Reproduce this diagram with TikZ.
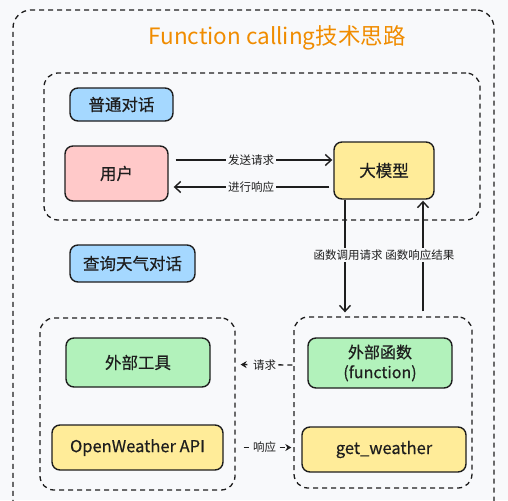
\documentclass[tikz,border=0pt]{standalone}
\usepackage{fontspec}
\setmainfont{Noto Sans CJK SC}
\newfontfamily\medfont{Noto Sans CJK SC}[FakeBold=0.5]
\usetikzlibrary{arrows.meta}
\definecolor{bg}{HTML}{F8F9FB}
\definecolor{cblue}{HTML}{A5D8FF}
\definecolor{cpink}{HTML}{FFC9C9}
\definecolor{cyellow}{HTML}{FFEC99}
\definecolor{cgreen}{HTML}{B2F2BB}
\definecolor{corange}{HTML}{F08C00}
\definecolor{ink}{HTML}{1E1E1E}
\tikzset{
  dbox/.style={draw=ink, line width=1.3pt, dash pattern=on 5pt off 4pt, rounded corners=14pt, inner sep=0pt},
  cbox/.style={draw=ink, line width=1.4pt, rounded corners=8pt, font=\medfont\fontsize{16.5}{19}\selectfont, text=ink, inner sep=0pt, align=center},
  lbl/.style={font=\fontsize{11.5}{13}\selectfont, fill=bg, text=ink, inner sep=2pt},
  conn/.style={draw=ink, line width=1.4pt, -{Straight Barb[length=6pt,width=11pt,line width=1.4pt]}},
  dconn/.style={draw=ink, line width=1.3pt, dash pattern=on 5pt off 4pt, -{Stealth[length=6pt,width=7pt]}}
}
\begin{document}
\begin{tikzpicture}[x=1pt,y=-1pt]
\useasboundingbox (0,0) rectangle (508,500);
\clip (0,0) rectangle (508,500);
\fill[bg] (0,0) rectangle (508,500);
% outer frame
\node[dbox, minimum width=481pt, minimum height=510pt, rounded corners=18pt] (outer) at (253.5,265) {};
\node[font=\fontsize{22.5}{26}\selectfont, text=corange] (title) at (277,38) {Function calling技术思路};
% group boxes
\node[dbox, minimum width=436pt, minimum height=147pt] (g1) at (262,146.5) {};
\node[dbox, minimum width=195pt, minimum height=172pt] (gl) at (137.5,404) {};
\node[dbox, minimum width=178pt, minimum height=171pt] (gr) at (383,402.5) {};
% nodes
\node[cbox, fill=cblue, minimum width=103pt, minimum height=33pt] (b1) at (121.5,104.5) {普通对话};
\node[cbox, fill=cpink, minimum width=103pt, minimum height=55pt] (user) at (116.5,173.5) {用户};
\node[cbox, fill=cyellow, minimum width=100pt, minimum height=57pt] (llm) at (384,170.5) {大模型};
\node[cbox, fill=cblue, minimum width=125pt, minimum height=37pt] (b2) at (132.5,263.5) {查询天气对话};
\node[cbox, fill=cgreen, minimum width=144pt, minimum height=49pt] (tool) at (138,362.5) {外部工具};
\node[cbox, fill=cyellow, minimum width=171pt, minimum height=45pt] (api) at (137.5,447.5) {OpenWeather API};
\node[cbox, fill=cgreen, minimum width=144pt, minimum height=50pt, font=\medfont\fontsize{16}{20}\selectfont] (func) at (380,363) {外部函数\\(function)};
\node[cbox, fill=cyellow, minimum width=164pt, minimum height=45pt] (getw) at (384,449.5) {get\_weather};
% connectors
\draw[conn, shorten <=7pt, shorten >=1pt] ([yshift=13.5pt]user.east) -- node[lbl] {发送请求} ([yshift=10.5pt]llm.west);
\draw[conn, shorten <=4pt, shorten >=5pt] ([yshift=-16.5pt]llm.west) -- node[lbl] {进行响应} ([yshift=-13.5pt]user.east);
\coordinate (dtop) at ([xshift=-39pt]llm.south);
\coordinate (dbot) at ([xshift=-38pt]gr.north);
\coordinate (utop) at ([xshift=39pt]llm.south);
\coordinate (ubot) at ([xshift=40pt]gr.north);
\draw[conn, shorten >=4pt] (dtop) -- (dbot);
\draw[conn, shorten <=5pt, shorten >=1pt] (ubot) -- (utop);
\node[lbl, inner xsep=1pt] (flabel) at (384,255) {函数调用请求 函数响应结果};
\draw[dconn, shorten <=1pt, shorten >=5pt] ([yshift=-2pt]gr.west |- func.west) -- node[lbl] {请求} ([yshift=-2pt]gl.east |- tool.east);
\draw[dconn, shorten <=8pt, shorten >=2pt] ([yshift=0pt]gl.east |- api.east) -- node[lbl] {响应} ([yshift=2pt]gr.west |- getw.west);
\end{tikzpicture}
\end{document}
